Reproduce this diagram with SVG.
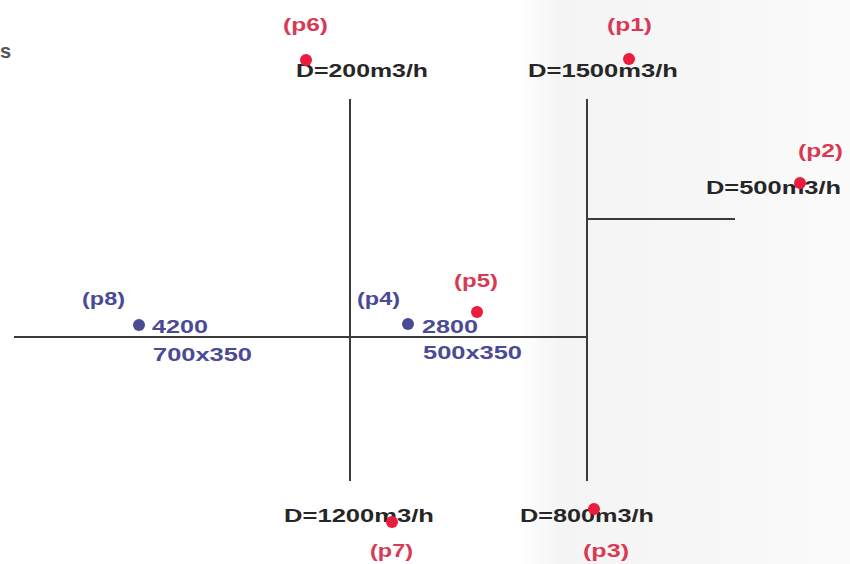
<svg xmlns="http://www.w3.org/2000/svg" width="850" height="564" viewBox="0 0 850 564">
<defs>
<linearGradient id="shade" x1="0" y1="0" x2="1" y2="0">
<stop offset="0" stop-color="#ffffff"/>
<stop offset="0.12" stop-color="#f4f4f4"/>
<stop offset="0.6" stop-color="#f7f7f7"/>
<stop offset="1" stop-color="#fbfbfb"/>
</linearGradient>
</defs>
<style>
.ln{stroke:#3a3a3a;stroke-width:2;fill:none}
.d{font-family:"Liberation Sans",Arial,sans-serif;font-weight:bold;font-size:19px;fill:#262626}
.pr{font-family:"Liberation Sans",Arial,sans-serif;font-weight:bold;font-size:18px;fill:#d83a55}
.pb{font-family:"Liberation Sans",Arial,sans-serif;font-weight:bold;font-size:18px;fill:#4b4a96}
.b{font-family:"Liberation Sans",Arial,sans-serif;font-weight:bold;font-size:19px;fill:#4b4a96}
.rd{fill:#ec1c3c}
.bd{fill:#4b4a96}
</style>
<rect x="0" y="0" width="850" height="564" fill="#ffffff"/>
<rect x="520" y="0" width="330" height="564" fill="url(#shade)"/>
<g id="connectors">
<line class="ln" x1="350" y1="99" x2="350" y2="481"/>
<line class="ln" x1="587" y1="99" x2="587" y2="481"/>
<line class="ln" x1="14" y1="337" x2="587" y2="337"/>
<line class="ln" x1="587" y1="219" x2="735" y2="219"/>
</g>
<g id="s"><text class="d" x="0" y="58" style="fill:#555;font-size:20px">s</text></g>
<g id="p6">
<text class="pr" x="283" y="31" textLength="45" lengthAdjust="spacingAndGlyphs">(p6)</text>
<text class="d" x="296" y="77" textLength="132" lengthAdjust="spacingAndGlyphs">D=200m3/h</text>
<circle class="rd" cx="306" cy="60" r="6"/>
</g>
<g id="p1">
<text class="pr" x="607" y="31" textLength="45" lengthAdjust="spacingAndGlyphs">(p1)</text>
<text class="d" x="528" y="77" textLength="150" lengthAdjust="spacingAndGlyphs">D=1500m3/h</text>
<circle class="rd" cx="629" cy="59" r="6"/>
</g>
<g id="p2">
<text class="pr" x="798" y="157" textLength="45" lengthAdjust="spacingAndGlyphs">(p2)</text>
<text class="d" x="706" y="194" textLength="135" lengthAdjust="spacingAndGlyphs">D=500m3/h</text>
<circle class="rd" cx="800" cy="183" r="6"/>
</g>
<g id="p8">
<text class="pb" x="82" y="305" textLength="43" lengthAdjust="spacingAndGlyphs">(p8)</text>
<circle class="bd" cx="139" cy="325" r="6"/>
<text class="b" x="152" y="333" textLength="56" lengthAdjust="spacingAndGlyphs">4200</text>
<text class="b" x="153" y="361" textLength="99" lengthAdjust="spacingAndGlyphs">700x350</text>
</g>
<g id="p4">
<text class="pb" x="357" y="305" textLength="43" lengthAdjust="spacingAndGlyphs">(p4)</text>
<circle class="bd" cx="408" cy="324" r="6"/>
<text class="b" x="422" y="333" textLength="56" lengthAdjust="spacingAndGlyphs">2800</text>
<text class="b" x="423" y="359" textLength="99" lengthAdjust="spacingAndGlyphs">500x350</text>
</g>
<g id="p5">
<text class="pr" x="454" y="287" textLength="44" lengthAdjust="spacingAndGlyphs">(p5)</text>
<circle class="rd" cx="477" cy="312" r="6"/>
</g>
<g id="p7">
<text class="d" x="284" y="522" textLength="150" lengthAdjust="spacingAndGlyphs">D=1200m3/h</text>
<circle class="rd" cx="392" cy="522" r="6"/>
<text class="pr" x="370" y="557" textLength="43" lengthAdjust="spacingAndGlyphs">(p7)</text>
</g>
<g id="p3">
<text class="d" x="520" y="522" textLength="134" lengthAdjust="spacingAndGlyphs">D=800m3/h</text>
<circle class="rd" cx="594" cy="509" r="6"/>
<text class="pr" x="583" y="557" textLength="46" lengthAdjust="spacingAndGlyphs">(p3)</text>
</g>
</svg>
